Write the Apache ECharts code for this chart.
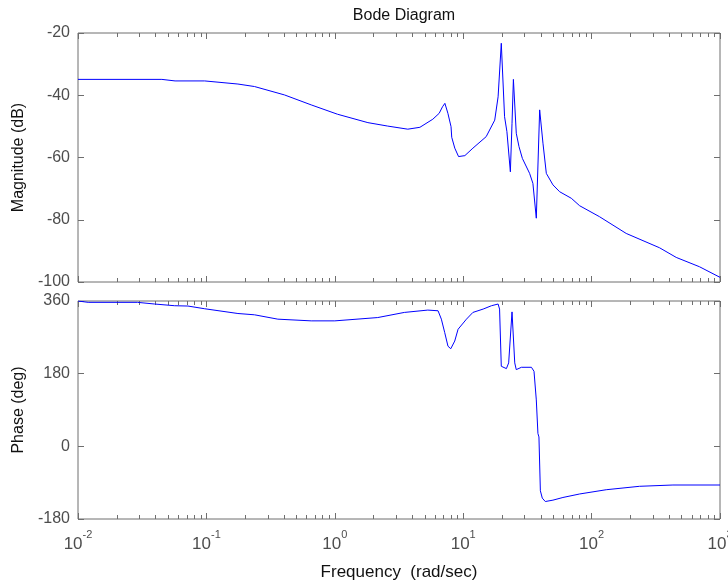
<!DOCTYPE html>
<html>
<head>
<meta charset="utf-8">
<script src="https://cdn.jsdelivr.net/npm/echarts@6/dist/echarts.min.js"></script>
<style>
  html, body { margin: 0; padding: 0; background: #fff; }
  #chart { width: 728px; height: 585px; }
</style>
</head>
<body>
<div id="chart"></div>
<script>
// magnitude curve (rad/sec, dB)
const magFreq = [0.01, 0.045, 0.057, 0.097, 0.176, 0.237, 0.406, 0.655, 1.05, 1.81, 2.58, 3.7, 4.6, 5.8, 6.5, 6.9, 7.2, 7.6, 8.04, 8.14, 8.6, 9.2,
  10.3, 11.9, 15.1, 17.6, 18.7, 19.8, 21.0, 21.9, 23.3, 24.0, 24.6, 25.9, 27.2, 28.9, 32.9, 34.9, 37.1, 39.4,
  41.8, 44.4, 50.0, 56.4, 69.5, 80.7, 115, 186, 338, 456, 692, 1000];
const magDb = [-34.9, -34.9, -35.4, -35.4, -36.4, -37.2, -39.9, -43.1, -46.1, -48.8, -49.9, -50.9, -50.3, -47.7, -45.8, -43.7, -42.6, -45.8, -50.1, -53.5, -57, -59.7,
  -59.4, -57, -53.3, -48, -40.5, -23.3, -46.9, -51.7, -64.6, -49, -34.9, -52.2, -56.5, -60.3, -65.1, -68.3, -79.5, -44.7,
  -55.4, -65.1, -68.8, -71, -73.1, -75.5, -79, -84.4, -89, -92.1, -95.1, -98.5];

// phase curve (rad/sec, deg)
const phaseFreq = [0.01, 0.012, 0.029, 0.0395, 0.0566, 0.0718, 0.097, 0.176, 0.237, 0.36, 0.655, 1.0, 2.16, 3.48, 5.3, 6.37,
  6.76, 7.18, 7.61, 8.0, 8.59, 9.12, 10.6, 11.9, 14.3, 16.6, 18.7, 19.2, 19.8, 21.7, 22.6, 24.0, 24.7, 25.2, 25.9, 28.4,
  34.0, 35.6, 37.1, 38.2, 38.9, 39.9, 41.3, 43.6, 50.0, 59.8, 80.7, 130, 236, 430, 1000];
const phaseDeg = [360, 356.7, 356.7, 352.5, 348.3, 347.5, 340.8, 329, 325.8, 315, 310.8, 310.8, 319, 331.7, 337.5, 335.8,
  315, 281.7, 248, 241.7, 260.8, 290, 315, 331.7, 340, 348.3, 352.5, 340, 198.3, 192.5, 206.7, 333, 333, 206.7, 190, 195.8,
  195.8, 185.8, 115, 31.7, 23.3, -110, -128.3, -136.7, -133.3, -126.7, -118, -107.5, -99, -95.8, -95.8];

const magTicks = [-100, -80, -60, -40, -20];
const phaseTicks = [-180, 0, 180, 360];

// log minor ticks 2..9 in every decade
const minorTicks = [];
for (let d = -2; d < 3; d++) {
  for (let k = 2; k <= 9; k++) minorTicks.push(k * Math.pow(10, d));
}

const frame = '#6e6e6e';
const tickText = '#4d4d4d';
const fontFamily = '"Liberation Sans", Arial, sans-serif';

const chart = echarts.init(document.getElementById('chart'));

function xAxisFor(grid, pos, labels, name) {
  return {
    type: 'log', logBase: 10, gridIndex: grid, position: pos,
    min: 0.01, max: 1000, splitNumber: 5,
    axisLine: { show: false, onZero: false },
    axisTick: { show: true, inside: true, length: 6, lineStyle: { color: frame } },
    splitLine: { show: false },
    axisLabel: labels ? {
      show: true, margin: 10,
      formatter: (v) => '{b|10}{s|' + Math.round(Math.log10(v)) + '}',
      rich: {
        b: { fontSize: 17, color: tickText, fontFamily: fontFamily, lineHeight: 24, verticalAlign: 'bottom' },
        s: { fontSize: 11, color: tickText, fontFamily: fontFamily, lineHeight: 24, verticalAlign: 'top' }
      }
    } : { show: false },
    name: name || '',
    nameLocation: 'middle', nameGap: 45,
    nameTextStyle: { fontSize: 17, color: '#111', fontFamily: fontFamily }
  };
}

function yAxisFor(grid, pos, min, max, interval, labels, name) {
  return {
    type: 'value', gridIndex: grid, position: pos,
    min: min, max: max, interval: interval,
    axisLine: { show: false, onZero: false },
    axisTick: { show: true, inside: true, length: 6, lineStyle: { color: frame } },
    splitLine: { show: false },
    axisLabel: { show: labels, fontSize: 16, color: tickText, fontFamily: fontFamily, margin: 8 },
    name: name || '',
    nameLocation: 'middle', nameGap: 48, nameRotate: 90,
    nameTextStyle: { fontSize: 16, color: '#111', fontFamily: fontFamily }
  };
}

function minorTickSeries(xi, yi, yMid) {
  return {
    type: 'custom', xAxisIndex: xi, yAxisIndex: yi, silent: true,
    data: minorTicks.map((f) => [f, yMid]),
    renderItem: (params, api) => {
      const x = Math.round(api.coord([api.value(0), api.value(1)])[0]) + 0.5;
      const cs = params.coordSys;
      const style = { stroke: frame, lineWidth: 1 };
      return {
        type: 'group',
        children: [
          { type: 'line', shape: { x1: x, y1: cs.y, x2: x, y2: cs.y + 4 }, style: style },
          { type: 'line', shape: { x1: x, y1: cs.y + cs.height, x2: x, y2: cs.y + cs.height - 4 }, style: style }
        ]
      };
    }
  };
}

chart.setOption({
  animation: false,
  backgroundColor: '#fff',
  title: {
    text: 'Bode Diagram', left: 399, top: 3, textAlign: 'center',
    textStyle: { fontSize: 16, fontWeight: 'normal', color: '#111', fontFamily: fontFamily }
  },
  grid: [
    { left: 78, right: 8, top: 33, height: 249, show: true, borderColor: frame, borderWidth: 1,
      backgroundColor: 'transparent', containLabel: false, outerBoundsMode: 'none' },
    { left: 78, right: 8, top: 301, height: 218, show: true, borderColor: frame, borderWidth: 1,
      backgroundColor: 'transparent', containLabel: false, outerBoundsMode: 'none' }
  ],
  xAxis: [
    xAxisFor(0, 'bottom', false),
    xAxisFor(0, 'top', false),
    xAxisFor(1, 'bottom', true, 'Frequency  (rad/sec)'),
    xAxisFor(1, 'top', false)
  ],
  yAxis: [
    yAxisFor(0, 'left', magTicks[0], magTicks[magTicks.length - 1], 20, true, 'Magnitude (dB)'),
    yAxisFor(0, 'right', magTicks[0], magTicks[magTicks.length - 1], 20, false),
    yAxisFor(1, 'left', phaseTicks[0], phaseTicks[phaseTicks.length - 1], 180, true, 'Phase (deg)'),
    yAxisFor(1, 'right', phaseTicks[0], phaseTicks[phaseTicks.length - 1], 180, false)
  ],
  series: [
    {
      type: 'line', xAxisIndex: 0, yAxisIndex: 0, showSymbol: false, symbol: 'none',
      data: magFreq.map((f, i) => [f, magDb[i]]),
      lineStyle: { color: '#0000ff', width: 1 }
    },
    {
      type: 'line', xAxisIndex: 2, yAxisIndex: 2, showSymbol: false, symbol: 'none',
      data: phaseFreq.map((f, i) => [f, phaseDeg[i]]),
      lineStyle: { color: '#0000ff', width: 1 }
    },
    minorTickSeries(0, 0, -60),
    minorTickSeries(2, 2, 90)
  ]
});
</script>
</body>
</html>
